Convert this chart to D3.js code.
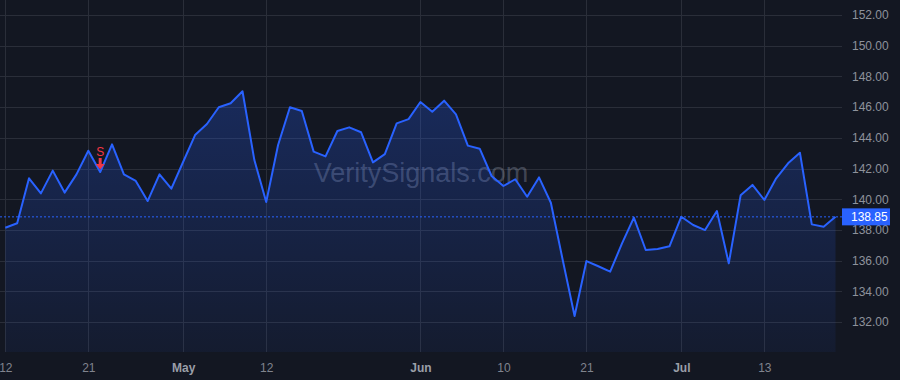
<!DOCTYPE html>
<html>
<head>
<meta charset="utf-8">
<script src="https://cdn.jsdelivr.net/npm/d3@7"></script>
<style>
  html, body { margin: 0; padding: 0; background: #131722; }
  #chart { width: 900px; height: 380px; }
  text { font-family: "Liberation Sans", Arial, sans-serif; }
</style>
</head>
<body>
<div id="chart"></div>
<script>
////////////////////////////////////////////////////////////////////////////
//////////////////////////////   data   ////////////////////////////////////
var dates = [
  "2021-04-12","2021-04-13","2021-04-14","2021-04-15","2021-04-16","2021-04-19","2021-04-20","2021-04-21",
  "2021-04-22","2021-04-23","2021-04-26","2021-04-27","2021-04-28","2021-04-29","2021-04-30",
  "2021-05-03","2021-05-04","2021-05-05","2021-05-06","2021-05-07","2021-05-10","2021-05-11","2021-05-12",
  "2021-05-13","2021-05-14","2021-05-17","2021-05-18","2021-05-19","2021-05-20","2021-05-21",
  "2021-05-24","2021-05-25","2021-05-26","2021-05-27","2021-05-28",
  "2021-06-01","2021-06-02","2021-06-03","2021-06-04","2021-06-07","2021-06-08","2021-06-09","2021-06-10",
  "2021-06-11","2021-06-14","2021-06-15","2021-06-16","2021-06-17","2021-06-18","2021-06-21",
  "2021-06-22","2021-06-23","2021-06-24","2021-06-25","2021-06-28","2021-06-29","2021-06-30",
  "2021-07-01","2021-07-02","2021-07-06","2021-07-07","2021-07-08","2021-07-09","2021-07-12","2021-07-13",
  "2021-07-14","2021-07-15","2021-07-16","2021-07-19","2021-07-20","2021-07-21"
];

var closes = [
  138.14, 138.43, 141.36, 140.38, 141.86, 140.43, 141.62, 143.16,
  141.77, 143.57, 141.62, 141.19, 139.88, 141.62, 140.69,
  142.44, 144.18, 144.90, 145.99, 146.25, 147.03, 142.55, 139.82,
  143.53, 145.99, 145.75, 143.10, 142.79, 144.44, 144.68,
  144.36, 142.40, 142.94, 144.94, 145.22,
  146.33, 145.70, 146.42, 145.53, 143.49, 143.29, 141.51, 140.86,
  141.30, 140.16, 141.42, 139.77, 136.04, 132.39, 135.97,
  135.63, 135.28, 137.12, 138.80, 136.69, 136.76, 136.93,
  138.86, 138.32, 137.99, 139.23, 135.82, 140.25, 140.93, 139.95,
  141.36, 142.34, 143.03, 138.36, 138.21, 138.85
];

var tickDates  = ["2021-04-12","2021-04-21","2021-05-03","2021-05-12","2021-06-01","2021-06-10","2021-06-21","2021-07-01","2021-07-13"];
var tickLabels = ["12", "21", "May", "12", "Jun", "10", "21", "Jul", "13"];
var priceTicks = [132, 134, 136, 138, 140, 142, 144, 146, 148, 150, 152];

var signalDates = ["2021-04-22"];
var signalTypes = ["S"];

var lastPrice = 138.85;
var watermark = "VeritySignals.com";

////////////////////////////////////////////////////////////////////////////
//////////////////////////////   setup   ///////////////////////////////////
var W = 900, H = 380;
var plotRight = 842, plotBottom = 352;

var svg = d3.select("#chart")
  .append("svg")
  .attr("width", W)
  .attr("height", H);

svg.append("rect")
  .attr("width", W)
  .attr("height", H)
  .attr("fill", "#131722");

var x = d3.scalePoint()
  .domain(dates)
  .range([5.3, 835.5]);

var y = d3.scaleLinear()
  .domain([132, 152])
  .range([322, 15]);

var data = dates.map(function(d, i){ return {date: d, value: closes[i]}; });

// gradient for the area
var defs = svg.append("defs");
var grad = defs.append("linearGradient")
  .attr("id", "areaGrad")
  .attr("gradientUnits", "userSpaceOnUse")
  .attr("x1", 0).attr("x2", 0)
  .attr("y1", y(d3.max(closes))).attr("y2", plotBottom);
grad.append("stop").attr("offset", "0%").attr("stop-color", "#2962ff").attr("stop-opacity", 0.26);
grad.append("stop").attr("offset", "100%").attr("stop-color", "#2962ff").attr("stop-opacity", 0.06);

//////////////////////////////   grid   ////////////////////////////////////
var grid = svg.append("g").attr("class", "grid");

grid.selectAll(".hgrid")
  .data(priceTicks)
  .enter()
  .append("line")
  .attr("class", "hgrid")
  .attr("x1", 0)
  .attr("x2", plotRight)
  .attr("y1", function(d){ return Math.round(y(d)) + 0.5; })
  .attr("y2", function(d){ return Math.round(y(d)) + 0.5; })
  .attr("stroke", "#2a2e39")
  .attr("stroke-width", 1);

grid.selectAll(".vgrid")
  .data(tickDates)
  .enter()
  .append("line")
  .attr("class", "vgrid")
  .attr("x1", function(d){ return Math.round(x(d)) + 0.5; })
  .attr("x2", function(d){ return Math.round(x(d)) + 0.5; })
  .attr("y1", 0)
  .attr("y2", plotBottom)
  .attr("stroke", "#2a2e39")
  .attr("stroke-width", 1);

//////////////////////////////   watermark   ///////////////////////////////
svg.append("text")
  .attr("x", 421)
  .attr("y", 182)
  .attr("text-anchor", "middle")
  .attr("font-size", "27px")
  .attr("fill", "rgba(178,186,205,0.3)")
  .text(watermark);

//////////////////////////////   area + line   /////////////////////////////
var area = d3.area()
  .x(function(d){ return x(d.date); })
  .y0(plotBottom)
  .y1(function(d){ return y(d.value); });

var line = d3.line()
  .x(function(d){ return x(d.date); })
  .y(function(d){ return y(d.value); });

svg.append("path")
  .datum(data)
  .attr("d", area)
  .attr("fill", "url(#areaGrad)");

// last price dashed line
svg.append("line")
  .attr("x1", 0)
  .attr("x2", plotRight)
  .attr("y1", y(lastPrice))
  .attr("y2", y(lastPrice))
  .attr("stroke", "#2962ff")
  .attr("stroke-width", 1)
  .attr("stroke-dasharray", "2,2");

svg.append("path")
  .datum(data)
  .attr("d", line)
  .attr("fill", "none")
  .attr("stroke", "#2962ff")
  .attr("stroke-width", 2)
  .attr("stroke-linejoin", "round");

//////////////////////////////   signal markers   //////////////////////////
var sig = svg.selectAll(".signal")
  .data(signalDates)
  .enter()
  .append("g")
  .attr("class", "signal")
  .attr("transform", function(d){
    var v = closes[dates.indexOf(d)];
    return "translate(" + x(d) + "," + y(v) + ")";
  });

sig.append("text")
  .attr("y", -16)
  .attr("text-anchor", "middle")
  .attr("font-size", "12px")
  .attr("fill", "#f23645")
  .text(function(d, i){ return signalTypes[i]; });

sig.append("path")
  .attr("d", "M-1.5,-14 L1.5,-14 L1.5,-8 L4.5,-8 L0,-2.5 L-4.5,-8 L-1.5,-8 Z")
  .attr("fill", "#f23645");

//////////////////////////////   axes   ////////////////////////////////////
var yAxis = svg.append("g")
  .attr("transform", "translate(" + plotRight + ",0)")
  .call(d3.axisRight(y).tickValues(priceTicks).tickSize(0).tickPadding(10)
    .tickFormat(function(d){ return d3.format(".2f")(d); }));
yAxis.select(".domain").remove();
yAxis.selectAll("text")
  .attr("font-size", "12px")
  .attr("font-family", "'Liberation Sans', Arial, sans-serif")
  .attr("fill", "#8e929c");

var xAxis = svg.append("g")
  .attr("transform", "translate(0," + plotBottom + ")")
  .call(d3.axisBottom(x).tickValues(tickDates).tickSize(0).tickPadding(9)
    .tickFormat(function(d, i){ return tickLabels[i]; }));
xAxis.select(".domain").remove();
xAxis.selectAll("text")
  .attr("font-size", "12px")
  .attr("font-family", "'Liberation Sans', Arial, sans-serif")
  .attr("fill", function(d, i){ return isNaN(+tickLabels[i]) ? "#9a9ea8" : "#80848e"; })
  .attr("font-weight", function(d, i){ return isNaN(+tickLabels[i]) ? "bold" : "normal"; })
  .attr("dy", "0.9em");

//////////////////////////////   last price label   ////////////////////////
var tag = svg.append("g")
  .attr("transform", "translate(" + plotRight + "," + y(lastPrice) + ")");

tag.append("rect")
  .attr("x", 0)
  .attr("y", -8.5)
  .attr("width", 48)
  .attr("height", 17)
  .attr("fill", "#2962ff");

tag.append("text")
  .attr("x", 9)
  .attr("y", 4)
  .attr("font-size", "12px")
  .attr("fill", "#ffffff")
  .text(d3.format(".2f")(lastPrice));
</script>
</body>
</html>
